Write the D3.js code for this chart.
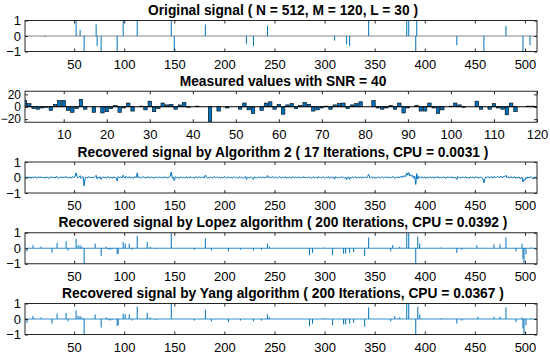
<!DOCTYPE html>
<html>
<head>
<meta charset="utf-8">
<script src="https://cdn.jsdelivr.net/npm/d3@7"></script>
<style>
  body { margin: 0; background: #fff; }
  svg text { font-family: "Liberation Sans", Arial, sans-serif; fill: #000; }
  .title { font-weight: bold; font-size: 13.8px; }
  .tick text { font-size: 13px; }
  .small .tick text { font-size: 12px; }
</style>
</head>
<body>
<svg width="550" height="354"></svg>
<script>
// ---- data ----
var N = 512, M = 120;

// original sparse signal: index, value
var origIdx = [21, 52, 56, 60, 72, 73, 77, 93, 99, 113, 147, 150, 181, 222, 229, 243,
               310, 322, 325, 344, 382, 384, 391, 392, 432, 459, 481, 498, 505];
var origVal = [-0.05, 1, 0.4, -1, 0.75, -0.65, -1, -1, 1, 1, 1, -1, 0.75, -0.5, -0.65, 0.65,
               -0.3, -0.55, -0.65, 1, 1, 1, -1, 1, -0.6, -1, 0.65, -1, -0.6];

// measured values y (M = 120)
var measured = [10, 5, -3, -4, -2, -1, -6, 4, 10, 10, -6, -9, -3, 12, -4, 0, -9, 0, -10, -8,
                -3, 2, -9, -2, 6, -7, 0, 1, -5, 9, -8, -3, 6, 3, 4, -4, 3, 7, -1, 0,
                1, 0, 0, -24, 0, -7, 0, -2, 0, 0, -4, 6, -5, -11, 0, -6, 6, 8, -4, 4,
                -12, 3, 5, -3, 2, 7, 4, -7, -5, -2, 1, -4, 3, 5, 6, -3, 3, 5, 8, 0,
                0, 10, -2, -4, -2, 2, -4, 6, -10, -2, 0, 2, -7, -7, 6, -2, -11, -5, 0, 1,
                6, 3, -1, 0, 0, 9, -4, 0, -4, 5, -2, -4, -13, 6, -8, 0, 0, 1, 1, -1];

// Algorithm 2 recovery (values x 0.01)
var alg2 = [
  2,-3,5,-1,0,4,-6,3,1,-2,6,0,-4,2,3,-1,5,-3,0,2,-5,4,1,-2,-7,3,0,5,-2,1,-4,6,
  3,-1,-6,2,4,0,-3,5,-2,7,1,-4,0,3,-5,2,6,-1,9,30,4,-3,2,12,-6,1,5,-55,-8,4,-3,2,
  5,-2,0,3,-4,1,6,14,-9,2,-3,5,-12,0,4,-2,3,-5,1,7,-3,0,2,-6,4,-1,3,-4,-22,6,-2,1,
  4,-3,15,2,-5,8,0,-2,6,-4,1,3,-6,2,5,-1,30,-3,4,0,-5,2,7,-2,1,-4,3,6,-3,0,5,-2,
  2,-6,1,4,-3,0,5,-2,3,-1,-4,6,0,2,-5,3,1,8,35,-4,2,-20,5,-1,0,3,-6,2,4,-3,1,0,
  -3,5,-1,2,-4,6,0,-2,3,-5,1,4,-2,0,6,-3,2,-1,5,-4,16,3,-2,0,-5,4,1,-3,2,6,-1,0,
  4,-2,1,-5,3,0,-3,6,2,-1,-4,5,0,-2,3,-6,1,4,-3,2,0,-5,5,-1,3,-2,-4,1,6,-13,2,0,
  -3,4,1,-2,-12,5,0,-4,3,2,-1,6,-3,0,4,-5,2,1,13,-2,5,-3,0,6,-4,1,3,-1,-5,2,7,-2,
  0,4,-3,1,5,-6,2,-1,3,0,-4,6,1,-2,4,-3,0,5,-5,2,1,-2,6,-4,3,0,-1,5,-3,2,-6,1,
  4,-2,0,3,-5,6,1,-1,-3,5,2,-4,0,3,-2,6,-5,1,4,-3,2,-11,5,-1,0,3,-4,2,6,-2,1,-5,
  3,-14,0,4,-12,2,-1,5,-3,1,6,-4,0,2,-2,5,-5,3,1,-1,4,-3,8,20,-2,0,5,-4,2,3,-6,1,
  -2,4,0,-3,5,1,-5,2,3,-1,6,-4,0,2,-2,7,3,-6,1,4,-3,5,0,8,-2,10,4,12,6,30,15,32,
  10,18,6,12,-5,8,-45,25,-10,6,3,-4,5,0,-2,4,-6,2,1,-3,5,0,-1,4,-5,2,3,-2,6,-4,0,1,
  -3,5,2,-1,-6,4,0,3,-2,1,5,-4,2,-3,0,-12,6,-1,3,-5,2,4,-2,0,5,-3,1,-6,3,2,-1,4,
  -4,0,6,-2,3,-5,1,2,-3,-8,-35,-6,4,-1,5,0,-3,6,2,-4,8,3,-2,5,7,-1,4,9,-3,6,2,8,
  14,-2,5,3,-4,6,0,-3,2,5,-6,1,-2,4,-8,-5,3,-30,-12,-18,2,-6,4,-3,1,5,-2,-10,3,-1,2,0
];

// Lopez recovery: index, value
var lopezIdx = [3, 9, 17, 28, 33, 42, 44, 52, 54, 56, 58, 60, 71, 77, 82, 84, 86, 88, 93, 94,
                99, 101, 105, 108, 113, 123, 126, 132, 147, 170, 181, 187, 204, 216, 229, 237, 243, 245,
                285, 288, 300, 308, 319, 321, 325, 329, 340, 344, 366, 368, 375, 382, 384, 391, 393, 395,
                416, 432, 437, 452, 469, 475, 481, 491, 497, 498, 499, 501, 506];
var lopezVal = [-0.2, 0.2, 0.1, -0.3, 0.35, 0.45, -0.15, 0.6, 0.2, 0.2, 0.1, -1, 0.3, -0.5, 0.1, -0.08, -0.1, -0.06, -0.4, -0.35,
                0.4, 0.3, 0.3, -0.1, 0.8, 0.4, 0.1, -0.05, 1, -0.1, 0.65, -0.15, -0.2, -0.1, -0.15, -0.1, 0.3, 0.1,
                -0.45, -0.3, 0.05, -0.45, -0.35, -0.35, -0.3, -0.25, -0.5, 0.7, -0.2, 0.2, 0.1, 1, 1, -1, 0.75, 0.3,
                0.05, -0.3, -0.1, 0.2, 0.25, 0.25, 0.7, -0.2, 0.3, -0.7, -1, -0.4, 0.05];

// Yang recovery: index, value
var yangIdx = [3, 9, 17, 28, 33, 42, 44, 52, 54, 56, 58, 60, 71, 77, 82, 84, 86, 88, 93, 94,
               99, 101, 105, 108, 113, 123, 126, 132, 147, 170, 181, 187, 204, 216, 229, 237, 243, 245,
               285, 288, 300, 308, 319, 321, 325, 329, 340, 344, 366, 370, 375, 382, 384, 391, 393, 395,
               416, 432, 437, 453, 469, 475, 481, 491, 497, 498, 499, 501, 506];
var yangVal = [-0.25, 0.2, 0.1, -0.3, 0.35, 0.4, -0.15, 0.55, 0.2, 0.2, 0.1, -1, 0.3, -0.55, 0.1, -0.08, -0.1, -0.06, -0.45, -0.4,
               0.35, 0.3, 0.3, -0.1, 0.8, 0.4, 0.1, -0.05, 1, -0.1, 0.6, -0.15, -0.2, -0.1, -0.15, -0.1, 0.3, 0.1,
               -0.45, -0.3, 0.05, -0.4, -0.35, -0.35, -0.3, -0.25, -0.5, 0.75, -0.15, 0.2, 0.1, 1, 1, -1, 0.8, 0.3,
               0.05, -0.3, -0.1, 0.15, 0.15, 0.15, 0.75, -0.2, 0.1, -0.6, -1, -0.4, 0.05];

var titles = [
  "Original signal ( N = 512, M = 120, L = 30 )",
  "Measured values with SNR = 40",
  "Recovered signal by Algorithm 2 ( 17 Iterations, CPU = 0.0031 )",
  "Recovered signal by Lopez algorithm ( 200 Iterations, CPU = 0.0392 )",
  "Recovered signal by Yang algorithm ( 200 Iterations, CPU = 0.0367 )"
];
var sigTicks = [50, 100, 150, 200, 250, 300, 350, 400, 450, 500];
var measTicks = [10, 20, 30, 40, 50, 60, 70, 80, 90, 100, 110, 120];

// ---- layout ----
var svg = d3.select("svg");
var x0 = 25, x1 = 537, ph = 31;
var tops = [20.5, 91.25, 162, 232.75, 303.5];
var blue = "#0072BD";

function pairs(idx, val) {
  return idx.map(function(d, i) { return { i: d, v: val[i] }; });
}

function panel(k, xDomain, yDomain, xTicks, yTicks) {
  var top = tops[k];
  var x = d3.scaleLinear().domain(xDomain).range([x0, x1]);
  var y = d3.scaleLinear().domain(yDomain).range([top + ph, top]);
  var g = svg.append("g");

  var clipId = "clip" + k;
  svg.append("clipPath").attr("id", clipId)
     .append("rect").attr("x", x0).attr("y", top).attr("width", x1 - x0).attr("height", ph);
  var plot = g.append("g").attr("clip-path", "url(#" + clipId + ")");

  // axes, ticks inward on all four sides
  g.append("g").attr("transform", "translate(0," + (top + ph) + ")")
   .call(d3.axisBottom(x).tickValues(xTicks).tickSizeInner(-3).tickSizeOuter(0).tickPadding(8));
  g.append("g").attr("transform", "translate(0," + top + ")")
   .call(d3.axisTop(x).tickValues(xTicks).tickSizeInner(-3).tickSizeOuter(0).tickFormat(""));
  var yAxis = g.append("g").attr("transform", "translate(" + x0 + ",0)")
   .call(d3.axisLeft(y).tickValues(yTicks).tickSizeInner(-3).tickSizeOuter(0).tickPadding(4)
     .tickFormat(d3.format("d")));
  if (k == 1) yAxis.attr("class", "small");
  g.append("g").attr("transform", "translate(" + x1 + ",0)")
   .call(d3.axisRight(y).tickValues(yTicks).tickSizeInner(-3).tickSizeOuter(0).tickFormat(""));
  g.selectAll(".domain").remove();
  g.selectAll(".tick line").attr("stroke", "#262626");

  g.append("rect").attr("x", x0).attr("y", top).attr("width", x1 - x0).attr("height", ph)
   .attr("fill", "none").attr("stroke", "#262626").attr("stroke-width", 1);

  g.append("text").attr("class", "title")
   .attr("x", (x0 + x1) / 2 + 2).attr("y", top - 5.5)
   .attr("text-anchor", "middle").text(titles[k]);

  return { x: x, y: y, plot: plot };
}

function stems(p, data, zeroColor) {
  p.plot.append("line")
   .attr("x1", x0).attr("x2", x1)
   .attr("y1", p.y(0)).attr("y2", p.y(0))
   .attr("stroke", zeroColor).attr("stroke-width", 0.8);
  p.plot.selectAll(".stem").data(data).enter().append("line")
   .attr("class", "stem")
   .attr("x1", function(d) { return p.x(d.i); })
   .attr("x2", function(d) { return p.x(d.i); })
   .attr("y1", p.y(0))
   .attr("y2", function(d) { return p.y(d.v); })
   .attr("stroke", blue).attr("stroke-width", 1);
}

// 1. original
var p1 = panel(0, [1, N], [-1, 1], sigTicks, [-1, 0, 1]);
stems(p1, pairs(origIdx, origVal), "#666");

// 2. measured values (bars)
var p2 = panel(1, [1, M], [-25, 25], measTicks, [-20, 0, 20]);
var bw = (p2.x(2) - p2.x(1)) * 0.8;
p2.plot.selectAll(".bar").data(measured).enter().append("rect")
  .attr("class", "bar")
  .attr("x", function(d, i) { return p2.x(i + 1) - bw / 2; })
  .attr("width", bw)
  .attr("y", function(d) { return p2.y(Math.max(d, 0)); })
  .attr("height", function(d) { return Math.abs(p2.y(d) - p2.y(0)); })
  .attr("fill", blue).attr("stroke", "#000").attr("stroke-width", 0.6);
p2.plot.append("line").attr("x1", x0).attr("x2", x1)
  .attr("y1", p2.y(0)).attr("y2", p2.y(0))
  .attr("stroke", "#000").attr("stroke-width", 1);

// 3. algorithm 2 (line)
var p3 = panel(2, [1, N], [-1, 1], sigTicks, [-1, 0, 1]);
p3.plot.append("path")
  .datum(alg2)
  .attr("d", d3.line().x(function(d, i) { return p3.x(i + 1); }).y(function(d) { return p3.y(d / 100); }))
  .attr("fill", "none").attr("stroke", blue).attr("stroke-width", 1);

// 4. Lopez
var p4 = panel(3, [1, N], [-1, 1], sigTicks, [-1, 0, 1]);
stems(p4, pairs(lopezIdx, lopezVal), blue);

// 5. Yang
var p5 = panel(4, [1, N], [-1, 1], sigTicks, [-1, 0, 1]);
stems(p5, pairs(yangIdx, yangVal), blue);
</script>
</body>
</html>
